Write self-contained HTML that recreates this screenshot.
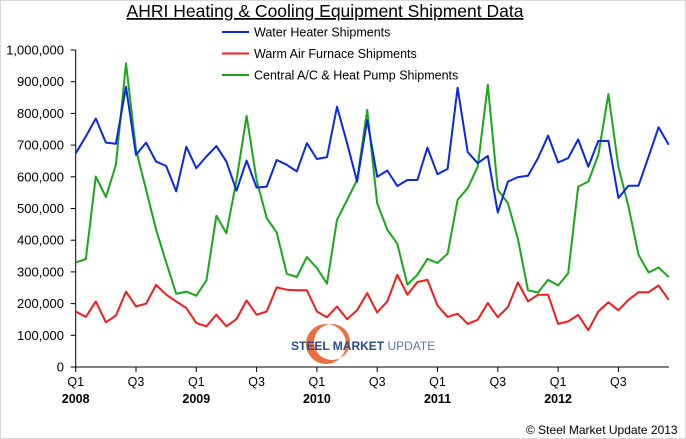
<!DOCTYPE html>
<html><head><meta charset="utf-8">
<style>
body{margin:0;background:#fff;}
svg{display:block;font-family:"Liberation Sans",sans-serif;}
</style></head>
<body>
<svg id="chart" width="686" height="439" viewBox="0 0 686 439" xmlns="http://www.w3.org/2000/svg">
<rect x="0.5" y="0.5" width="685" height="438" fill="#fff" stroke="#d9d9d9"/>
<text x="325" y="17" text-anchor="middle" font-size="17.5" text-decoration="underline" fill="#000">AHRI Heating &amp; Cooling Equipment Shipment Data</text>
<g id="legend"></g>
<g>
<path fill-rule="evenodd" d="M306 344 A20 20 0 1 0 346 344 A20 20 0 1 0 306 344 Z M314 342 A18 18 0 1 0 350 342 A18 18 0 1 0 314 342 Z" fill="#e8622a" opacity="0.9"/>
<text x="291" y="350" font-size="12" font-weight="bold" fill="#2b4c8c">STEEL MARKET <tspan font-weight="normal" fill="#5a78b0">UPDATE</tspan></text>
</g>
<g id="axes"></g>
<g id="series"></g>
<text x="526" y="434" font-size="12" fill="#000">©   Steel Market Update 2013</text>
</svg>
<script>
const months = 60;
const waterHeater = [674,727,784,708,704,884,669,708,648,634,554,695,627,664,697,648,556,651,566,569,653,638,617,706,656,662,821,706,585,779,
600,620,571,590,590,692,608,625,881,678,643,666,487,585,599,603,659,730,645,659,718,632,713,713,533,572,572,664,756,701];
const warmAir = [175,158,207,141,162,238,191,200,259,228,207,186,139,128,165,128,151,210,165,175,251,244,242,242,175,157,191,151,179,233,
172,207,291,228,268,275,194,158,168,136,149,202,157,189,267,207,228,228,136,144,164,116,175,204,179,212,236,236,257,212];
const centralAC = [330,340,601,536,638,958,685,559,433,330,231,238,225,273,477,422,590,792,590,470,424,294,284,347,312,263,464,527,590,811,
517,433,389,260,291,341,328,357,527,564,632,890,559,517,404,242,235,275,257,296,569,585,669,861,632,506,354,298,314,284];
const yTicks = [0,100000,200000,300000,400000,500000,600000,700000,800000,900000,1000000];
const quarterLabels = ["Q1","Q3","Q1","Q3","Q1","Q3","Q1","Q3","Q1","Q3"];
const yearLabels = ["2008","2009","2010","2011","2012"];
const seriesNames = ["Water Heater Shipments","Warm Air Furnace Shipments","Central A/C & Heat Pump Shipments"];

const NS="http://www.w3.org/2000/svg";
const X0=75.7, DX=10.05, Y0=367, YTOP=50;
function xs(i){return X0+i*DX;}
function ys(v){return Y0-(v/1000000)*(Y0-YTOP);}
function mk(tag,attrs,parent){const e=document.createElementNS(NS,tag);for(const k in attrs)e.setAttribute(k,attrs[k]);parent.appendChild(e);return e;}

const axes=document.getElementById('axes');
let l=mk('line',{x1:X0,y1:YTOP,x2:X0,y2:Y0,stroke:'#000','stroke-width':1},axes);


l=mk('line',{x1:X0,y1:Y0,x2:669,y2:Y0,stroke:'#000','stroke-width':1},axes);


yTicks.forEach(v=>{
  const y=ys(v);
  let t=mk('line',{x1:X0-5,y1:y,x2:X0,y2:y,stroke:'#000'},axes);
  
  
  let tx=mk('text',{x:64,y:y+4.5,'text-anchor':'end','font-size':13,fill:'#000'},axes);
  tx.textContent=v.toLocaleString('en-US');
  
  
});
quarterLabels.forEach((q,k)=>{
  const x=xs(k*6);
  let t=mk('line',{x1:x,y1:Y0,x2:x,y2:Y0+5,stroke:'#000'},axes);
  
  
  let tx=mk('text',{x:x,y:386,'text-anchor':'middle','font-size':12.5,fill:'#000'},axes);
  tx.textContent=q;
  
  
});
yearLabels.forEach((yr,k)=>{
  let tx=mk('text',{x:xs(k*12),y:403,'text-anchor':'middle','font-size':12.5,'font-weight':'bold',fill:'#000'},axes);
  tx.textContent=yr;
  
  
});

const colors=['#0a28e6','#f21c1c','#1aa81a'];
const data=[waterHeater,warmAir,centralAC];
const names=['water-heater-line','warm-air-furnace-line','central-ac-line'];
const sg=document.getElementById('series');
[2,0,1].forEach(s=>{
  const pts=data[s].map((v,i)=>xs(i).toFixed(1)+','+ys(v*1000).toFixed(1)).join(' ');
  let p=mk('polyline',{points:pts,fill:'none',stroke:colors[s],'stroke-width':2,'stroke-linejoin':'round'},sg);
  
  
});

const lg=document.getElementById('legend');
seriesNames.forEach((n,k)=>{
  const y=32+k*21.5;
  let ln=mk('line',{x1:222,y1:y,x2:249,y2:y,stroke:colors[k],'stroke-width':2},lg);
  
  
  let tx=mk('text',{x:254,y:y+4.5,'font-size':12.5,fill:'#000'},lg);
  tx.textContent=n;
  
  
});
</script>
</body></html>
